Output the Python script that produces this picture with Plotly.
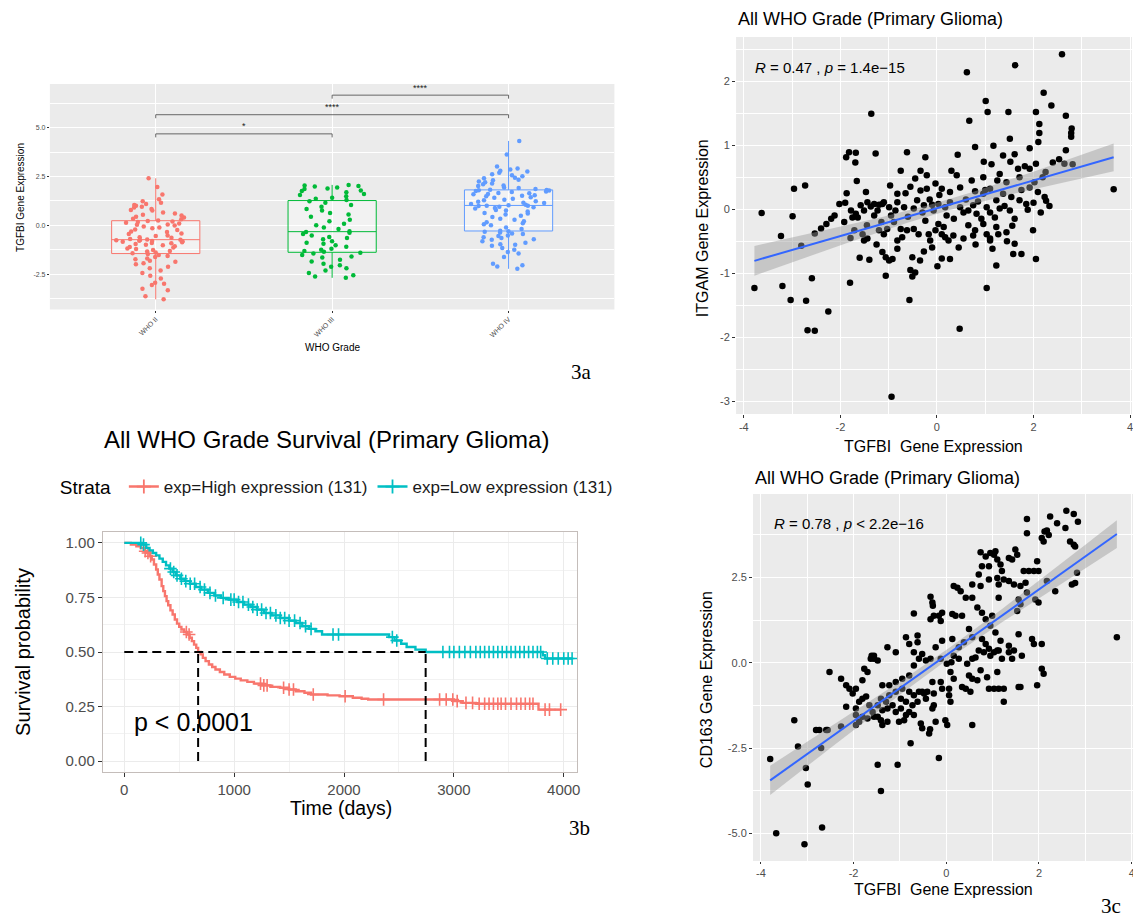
import numpy as np
import plotly.graph_objects as go

W, H = 1141, 920          # reference canvas
PAGE_MARGIN = 8           # default body margin of the html page
FW, FH = W - PAGE_MARGIN, H - PAGE_MARGIN
SANS = "Liberation Sans, Arial, Helvetica, sans-serif"
SERIF = "Liberation Serif, Times New Roman, serif"

# ---------------- Panel 3a : TGFBI expression by WHO grade ----------------
grade_names = ["WHO II", "WHO III", "WHO IV"]
grade_pos = [1, 2, 3]
grade_colors = ["#F8766D", "#00BA38", "#619CFF"]
tgfbi_who2 = [-3.78, -3.62, -3.31, -3.24, -3.05, -2.98, -2.93, -2.71, -2.58, -2.44, -2.31, -2.19, -2.12,
              -1.98, -1.94, -1.86, -1.81, -1.73, -1.69, -1.61, -1.56, -1.51, -1.46,
              -1.42, -1.39, -1.33, -1.31, -1.26, -1.21, -1.18, -1.13, -1.11, -1.06, -1.01, -0.99, -0.95,
              -0.91, -0.90, -0.86, -0.84, -0.81, -0.80, -0.78, -0.76, -0.75, -0.74,
              -0.72, -0.69, -0.63, -0.61, -0.54, -0.51, -0.44, -0.41, -0.34, -0.31, -0.24, -0.21, -0.14,
              -0.11, -0.06, -0.01, 0.03, 0.05, 0.10, 0.13, 0.18, 0.20, 0.23,
              0.25, 0.31, 0.34, 0.41, 0.44, 0.51, 0.54, 0.61, 0.66, 0.76, 0.79, 0.84, 0.91, 0.96, 1.01,
              1.04, 1.10, 1.16, 1.24, 1.34, 1.58, 1.96, 2.41]
tgfbi_who3 = [-2.68, -2.61, -2.55, -2.44, -2.31, -2.19, -2.11, -2.04, -1.96, -1.84, -1.76, -1.64, -1.59,
              -1.51, -1.44, -1.40,
              -1.35, -1.31, -1.24, -1.19, -1.09, -1.01, -0.94, -0.89, -0.81, -0.71, -0.64, -0.59, -0.51,
              -0.44, -0.38, -0.34,
              -0.30, -0.19, -0.11, 0.01, 0.09, 0.21, 0.29, 0.44, 0.56, 0.64, 0.76, 0.84, 0.96, 1.04, 1.16, 1.24,
              1.30, 1.36, 1.41, 1.49, 1.56, 1.61, 1.69, 1.76, 1.79, 1.86, 1.89, 1.94, 1.99, 2.01, 2.04, 2.07]
tgfbi_who4 = [-2.22, -2.10, -2.04, -1.96, -1.61, -1.44, -1.36, -1.24, -1.16, -1.04, -0.99, -0.96, -0.89,
              -0.81, -0.74, -0.71, -0.64, -0.61, -0.54, -0.51, -0.44, -0.41, -0.36, -0.33, -0.30,
              -0.27, -0.19, -0.11, 0.01, 0.06, 0.11, 0.16, 0.21, 0.29, 0.34, 0.43, 0.49, 0.56, 0.61, 0.64,
              0.71, 0.76, 0.79, 0.86, 0.89, 0.93, 0.96, 0.99, 1.00, 1.01,
              1.03, 1.06, 1.09, 1.14, 1.16, 1.21, 1.24, 1.29, 1.31, 1.36, 1.41, 1.44, 1.49, 1.51, 1.54,
              1.59, 1.61, 1.64, 1.66, 1.71, 1.73, 1.76, 1.79, 1.80, 1.81,
              1.82, 1.86, 1.91, 1.94, 2.01, 2.04, 2.11, 2.14, 2.21, 2.24, 2.31, 2.34, 2.41, 2.44, 2.51,
              2.56, 2.61, 2.69, 2.76, 2.79, 2.86, 2.91, 3.01, 3.62, 4.32]
sig_left = [1, 1, 2]
sig_right = [2, 3, 3]
sig_height = [4.68, 5.66, 6.66]
sig_label = ["*", "****", "****"]
box_yticks = [-2.5, 0.0, 2.5, 5.0]
box_yticklabels = ["-2.5", "0.0", "2.5", "5.0"]

# ---------------- Panel 3b : Kaplan-Meier survival ----------------
high_time = [0, 60, 110, 150, 180, 200, 230, 250, 270, 290, 305, 320, 340, 355, 370, 385, 400, 420, 440, 460,
             480, 500, 520, 545, 570, 595, 615, 635, 655, 672, 695, 715, 740, 770, 800, 830, 870, 910, 960, 1010,
             1060, 1120, 1180, 1250, 1330, 1420, 1500, 1560, 1640, 1700, 1850, 1960, 2080, 2160, 2220, 3000,
             3080, 3200, 3770]
high_surv = [1.0, 0.992, 0.985, 0.977, 0.962, 0.954, 0.939, 0.924, 0.901, 0.878, 0.855, 0.832, 0.802, 0.779,
             0.756, 0.733, 0.714, 0.691, 0.672, 0.649, 0.630, 0.615, 0.603, 0.592, 0.580, 0.565, 0.550, 0.534,
             0.519, 0.500, 0.489, 0.473, 0.458, 0.443, 0.431, 0.420, 0.408, 0.397, 0.386, 0.378, 0.370, 0.363,
             0.355, 0.347, 0.340, 0.336, 0.328, 0.320, 0.313, 0.305, 0.301, 0.297, 0.290, 0.286, 0.282, 0.275,
             0.267, 0.263, 0.236]
high_end = 3972
high_censor = [190, 215, 240, 565, 590, 1240, 1270, 1300, 1450, 1500, 1540, 1720, 2010, 2360, 2870, 2930,
               2990, 3030, 3110, 3170, 3230, 3280, 3320, 3360, 3400, 3430, 3470, 3520, 3570, 3610, 3650, 3690,
               3720, 3830, 3870, 3972]
low_time = [0, 160, 200, 230, 260, 290, 320, 350, 380, 410, 440, 470, 510, 550, 600, 650, 700, 760, 820, 880,
            950, 1030, 1090, 1150, 1210, 1270, 1340, 1420, 1500, 1560, 1620, 1680, 1740, 1800, 2410, 2460,
            2520, 2570, 2650, 2743, 3810, 3830]
low_surv = [1.0, 0.992, 0.977, 0.966, 0.954, 0.943, 0.928, 0.913, 0.897, 0.882, 0.867, 0.851, 0.836, 0.825,
            0.813, 0.798, 0.786, 0.771, 0.759, 0.748, 0.740, 0.729, 0.717, 0.706, 0.694, 0.679, 0.668, 0.656,
            0.644, 0.633, 0.618, 0.606, 0.595, 0.580, 0.568, 0.553, 0.538, 0.523, 0.511, 0.500, 0.485, 0.470]
low_end = 4076
low_censor = [150, 175, 420, 450, 480, 520, 560, 600, 640, 690, 730, 780, 830, 900, 970, 1000, 1040, 1080,
              1130, 1170, 1210, 1250, 1290, 1330, 1380, 1420, 1460, 1500, 1550, 1600, 1650, 1700, 1900, 1950,
              2440, 2480, 2900, 2960, 3000, 3050, 3100, 3150, 3200, 3240, 3280, 3320, 3360, 3400, 3440, 3480,
              3520, 3560, 3600, 3640, 3680, 3720, 3760, 3790, 3850, 3900, 3950, 4000, 4040, 4076]
strata_names = ["exp=High expression (131)", "exp=Low expression (131)"]
strata_colors = ["#F8766D", "#00BFC4"]
km_xticks = [0, 1000, 2000, 3000, 4000]
km_yticks = [0.0, 0.25, 0.5, 0.75, 1.0]
km_yticklabels = ["0.00", "0.25", "0.50", "0.75", "1.00"]

# ---------------- Panel 3c : correlation scatters ----------------
tgfbi_a = [2.59, 1.62, 0.62, 2.21, 2.37, 1.01, 1.05, 1.48, 2.05, 2.67, -1.36, 0.67, 2.12, 2.79, 2.78, 2.78,
           2.12, 1.51, 1.17, 0.79, 1.92, 2.10, 2.67, -1.88, -1.82, -1.68, -1.69, -1.27, -0.62, -0.24, 0.43,
           0.97, 1.13, 1.37, 1.52, 1.61, 1.82, 1.92, 2.05, 2.40, 2.53, 2.64, 2.81, 2.25, 2.19, 1.68, 1.71,
           1.30, 1.44, 0.96, 0.41, 0.72, -0.21, -0.34, -0.45, -0.03, -1.66, -0.97, -2.73, -2.96, 3.66, -1.87,
           -1.47, -0.82, -0.65, -0.34, -0.21, 0.10, 0.27, 0.48, 0.79, 0.96, 1.10, 1.37, 1.54, 1.71, 1.92,
           2.02, 2.09, 2.23, 2.26, 2.33, 1.85, 1.88, 1.51, 1.61, 1.56, 1.23, 1.30, 1.20, 1.03, 1.10, 0.75,
           0.82, 0.92, 0.48, 0.55, 0.65, 0.27, 0.17, 0.03, -0.10, -0.07, -0.41, -0.27, -0.48, -0.82, -0.68,
           -0.86, -1.13, -0.99, -1.23, -1.44, -1.37, -1.30, -1.20, -1.10, -1.58, -1.51, -1.68, -1.78, -1.75,
           -1.64, -2.02, -2.19, -2.12, -2.29, -1.92, -3.63, -2.99, -3.23, -2.53, -2.81, -1.79, -1.71, -1.54,
           -1.51, -1.44, -1.20, -1.10, -1.03, -0.89, -0.75, -0.62, -0.82, -0.72, -0.48, -0.38, -0.24, -0.17,
           -0.14, -0.03, 0.03, 0.14, 0.10, 0.17, 0.24, 0.34, 0.55, 0.75, 0.79, 0.96, 1.03, 1.10, 1.23, 1.27,
           1.44, 1.61, 1.75, 1.58, 1.99, 2.05, -1.60, -1.40, -1.13, -1.06, -0.99, -0.92, -0.82, -0.51, -0.27,
           0.01, 0.10, 0.27, 1.10, 1.15, 1.23, -1.06, -0.55, -0.51, -0.45, -1.80, -3.78, -3.20, -3.03, -2.71,
           -2.59, 1.03, -0.57, -2.25, -2.68, -2.53, 0.47, -0.94,
           -1.30, -1.15, -0.95, -0.60, -0.30, 0.20, 0.35, 0.60, 0.85, 1.40, -1.45, -0.55, 0.05, 1.25, 1.75,
           -0.10, 0.45, -1.25, 0.65, 1.45, -0.35, 2.15, 2.00, -2.40, -0.75, 0.30, 1.00, -0.15, 0.80, -1.90]
itgam = [2.42, 2.25, 2.14, 1.82, 1.62, 1.69, 1.52, 1.52, 1.52, 1.46, 1.49, 1.38, 1.33, 1.26, 1.19, 1.13,
         1.19, 1.10, 0.99, 0.97, 0.95, 1.05, 0.92, 0.81, 0.89, 0.88, 0.73, 0.87, 0.89, 0.81, 0.85,
         0.74, 0.70, 0.84, 0.74, 0.86, 0.67, 0.63, 0.71, 0.73, 0.78, 0.71, 0.70, 0.58, 0.50, 0.63, 0.50,
         0.55, 0.42, 0.50, 0.53, 0.45, 0.53, 0.60, 0.48, 0.40, 0.44, 0.37, 0.37, 0.32, 0.31, 0.25,
         0.27, 0.24, 0.25, 0.29, 0.32, 0.32, 0.27, 0.34, 0.28, 0.24, 0.32, 0.24, 0.19, 0.14, 0.34,
         0.42, 0.27, 0.19, 0.13, 0.05, 0.08, -0.01, -0.02, -0.15, -0.26, 0.14, 0.01, -0.13, 0.03, -0.05, 0.06,
         -0.07, -0.15, 0.03, -0.05, -0.02, 0.11, 0.03, 0.08, 0.07, -0.02, 0.14, 0.06, 0.01, 0.11, 0.03,
         -0.02, 0.08, 0.03, -0.02, 0.11, 0.04, 0.08, 0.07, 0.11, 0.06, -0.02, -0.07, -0.02, -0.13,
         -0.13, 0.08, -0.15, -0.10, -0.23, -0.20, -0.06, -0.11, -0.42, -0.38, -0.57, -0.45, -0.33, -0.39,
         -0.49, -0.46, -0.33, -0.39, -0.31, -0.20, -0.31, -0.33, -0.49, -0.44, -0.31, -0.39, -0.18, -0.39,
         -0.49, -0.33, -0.23, -0.28, -0.39, -0.44, -0.49, -0.41, -0.46, -0.41, -0.33, -0.23, -0.39, -0.46, -0.28, -0.39,
         -0.36, -0.54, -0.70, -0.70, -0.33, -0.78, -0.76, -0.79, -0.67, -0.75, -0.80, -0.78, -0.62, -0.75, -0.66,
         -0.89, -0.77, -0.78, -0.49, -0.62, -0.88, -1.04, -0.95, -1.05, -0.99, -1.15, -1.23, -1.20, -1.42, -1.43,
         -1.08, -1.23, -1.42, -1.60, -1.89, -1.90, -1.87, -2.93,
         -0.10, -0.20, -0.10, -0.12, -0.05, -0.10, -0.15, 0.15, 0.12, 0.05, -0.25, 0.35, 0.22, 0.45, 0.30,
         -0.60, -0.60, -0.55, -0.25, -0.50, -0.80, -0.05, 0.10, -0.30, 0.60, 0.60, 0.30, 0.15, -0.55, 0.10]
tgfbi_b = [2.59, 2.75, 2.84, 2.24, 1.74, 2.39, 2.57, 2.12, 2.17, 2.21, 2.06, 2.10, 1.74, 2.67, 2.75, 2.78,
           2.78, 2.71, 2.82, 2.35, 2.17, 1.99, 1.96, 1.67, 1.78, 1.89, 1.49, 1.53, 1.35, 1.42, 1.06, 1.03,
           1.10, 0.74, 0.85, 0.95, 0.92, 0.77, 1.17, 1.20, 1.10, 1.13, 1.24, 1.35, 1.46, 1.60, 1.71, 1.74,
           1.56, 1.60, 1.92, 1.99, 1.53, 1.13, 0.70, 0.92, 0.56, 0.74, 0.24, 0.31, 0.16, 0.42, 0.56, 0.67,
           0.77, 0.85, 0.99, 0.95, 0.13, 0.20, 0.34, -0.09, -0.12, 0.49, 0.56, 0.38, 0.27, 0.13, -0.09, -0.23,
           0.77, 0.85, 0.92, 1.06, 1.17, 1.10, 1.35, 1.46, 1.63, 1.56, 1.85, 1.89, 2.06, 2.06, 2.10, 1.96,
           1.60, -0.34, -0.30, -0.29, -0.34, -0.27, -0.16, -0.70, -0.62, -0.87, -0.62, -0.80, -0.70, -1.09,
           -1.27, -1.61, -1.56, -1.48, -0.52, -0.44, -0.34, -0.59, -0.70, -0.12, 0.01, 0.11, 0.16, 0.27, 0.56,
           0.45, 0.63, 0.70, 0.81, 0.95, 1.03, 1.13, 1.20, 1.35, 1.42, 0.74, 0.88, 1.10, 0.56, 0.67, 0.49,
           0.34, 0.42, 0.52, 0.09, 0.16, 0.06, -0.12, -0.09, -0.30, -0.41, -0.27, -0.52, -0.44, 0.06, 0.09,
           -0.27, -0.30, 0.92, 1.03, 1.13, 1.24, 1.24, 1.56, 0.56, -0.02, 0.02, -0.23, -0.37, -0.77, -0.55,
           -0.52, -0.16, -1.38, -1.23, -1.09, -0.95, -0.80, -0.95, -0.80, -0.70, -0.59, -0.48, -0.98, -0.87,
           -0.73, -0.62, -1.09, -1.23, -1.30, -1.16, -1.41, -1.48, -1.38, -1.27, -1.09, -0.98, -0.87, -1.02,
           -0.91, -0.80, -0.70, -1.66, -1.59, -1.56, -1.48, -1.41, -1.38, -1.27, -1.70, -1.81, -1.95, -1.88,
           -1.81, -1.73, -2.02, -1.95, -1.81, -2.16, -2.09, -2.27, -1.77, -1.70, -1.63, -1.56, -2.16, -2.52,
           -1.95, -1.88, -1.95, -2.27, -2.59, -2.74, -2.81, -2.56, -2.70, -3.28, -3.20, -3.80, -3.03, -2.99,
           -1.48, -1.05, -1.41, -0.35, 3.68, -3.67, -3.06, -2.68]
cd163 = [4.46, 4.36, 4.14, 4.29, 4.22, 4.09, 3.95, 3.85, 3.88, 3.75, 3.66, 3.56, 3.80, 3.56, 3.46, 3.41,
         2.34, 2.30, 2.64, 2.10, 2.40, 2.69, 2.98, 2.69, 2.69, 2.69, 3.32, 3.17, 3.07, 3.03, 3.27, 3.17,
         3.03, 3.24, 3.12, 3.22, 2.83, 2.83, 2.88, 2.69, 2.49, 2.30, 2.44, 2.40, 2.30, 2.25, 2.35, 2.06,
         1.86, 1.72, 1.86, 1.77, 1.52, 1.91, 2.59, 2.44, 2.30, 2.25, 2.20, 2.10, 2.25, 1.91, 1.91, 1.62,
         1.47, 1.28, 1.38, 1.09, 1.43, 1.38, 1.38, 1.47, 1.23, 0.99, 0.75, 0.60, 0.46, 0.70, 0.65, 0.46,
         0.70, 0.55, 0.41, 0.89, 0.65, 0.36, 0.50, 0.36, 0.21, 0.84, 0.70, 0.55, 0.55, -0.17, -0.32, -0.66,
         -0.71, 1.94, 1.77, 1.67, 1.28, 1.38, 1.38, 1.45, 0.80, 0.75, 0.60, 0.55, 0.31, 0.31,
         0.46, 0.21, 0.12, 0.07, 0.26, 0.07, 0.12, 0.12, -0.08, 0.12, -0.03, 0.02, 0.21, 0.12, 0.12,
         -0.03, 0.16, 0.36, 0.31, 0.21, 0.31, 0.36, 0.12, 0.31, 0.12, -0.22, -0.42, -0.27, -0.47, -0.51, -0.37,
         -0.71, -0.76, -0.85, -0.27, -0.47, -0.76, -0.56, -0.76, -0.56, -0.85, -0.90, -0.85, -1.05, -0.95, -1.14,
         -1.24, -1.34, -0.76, -0.76, -0.76, -0.76, -1.14, -0.71, -1.82, -1.68, -1.82, -1.73, -2.07, -2.36, -1.78,
         -1.92, -2.79, -0.66, -0.66, -0.56, -0.47, -0.37, -0.76, -0.85, -0.95, -0.85, -0.90, -1.05, -1.14,
         -1.24, -1.14, -0.85, -0.95, -1.14, -1.24, -1.05, -1.24, -1.39, -1.34, -1.44, -1.34, -1.53, -1.73,
         -1.68, -1.44, -1.53, -1.24, -1.44, -1.58, -1.58, -1.68, -1.82, -1.73, -1.63, -1.58, -1.34, -1.14,
         -1.05, -0.99, -0.90, -0.76, -0.51, -0.66, -0.76, -0.47, -0.17, -0.27, 0.12, 0.21, -1.29, -0.27,
         -1.53, -1.73, -1.82, -1.87, -1.97, -1.97, -1.97, -1.97, -2.50, -1.68, -2.45, -2.82, -3.08, -3.57,
         -2.99, -2.99, -3.76, -1.95, 0.75, -5.00, -5.32, -4.83]
sc_xticks = [-4, -2, 0, 2, 4]
sc_xticklabels = ["-4", "-2", "0", "2", "4"]
sc1_yticks = [-3, -2, -1, 0, 1, 2]
sc1_yticklabels = ["-3", "-2", "-1", "0", "1", "2"]
sc2_yticks = [-5.0, -2.5, 0.0, 2.5]
sc2_yticklabels = ["-5.0", "-2.5", "0.0", "2.5"]


# ---------------- helpers (reference pixel -> figure paper fraction) ----------------
def px_x(p):
    return (p - PAGE_MARGIN) / FW


def px_y(p):
    return 1 - (p - PAGE_MARGIN) / FH


def lm_band(x, y, n_grid=80):
    x = np.asarray(x, float)
    y = np.asarray(y, float)
    n = len(x)
    b1, b0 = np.polyfit(x, y, 1)
    xs = np.linspace(x.min(), x.max(), n_grid)
    yhat = b0 + b1 * xs
    resid = y - (b0 + b1 * x)
    s = np.sqrt(np.sum(resid ** 2) / (n - 2))
    sxx = np.sum((x - x.mean()) ** 2)
    se = s * np.sqrt(1.0 / n + (xs - x.mean()) ** 2 / sxx)
    t = 1.969
    return xs, yhat, yhat - t * se, yhat + t * se


def step_value(times, surv, t):
    idx = np.searchsorted(np.asarray(times), t, side="right") - 1
    return surv[max(idx, 0)]


fig = go.Figure()

# ---------------- 3a traces ----------------
for vals, pos, col in zip([tgfbi_who2, tgfbi_who3, tgfbi_who4], grade_pos, grade_colors):
    fig.add_trace(go.Box(
        x=[pos] * len(vals), y=vals, xaxis="x", yaxis="y",
        boxpoints="all", jitter=1.0, pointpos=0, width=0.5, whiskerwidth=0,
        line=dict(color=col, width=1), fillcolor="rgba(255,255,255,0.35)",
        marker=dict(color=col, size=4.5, opacity=1), showlegend=False, hoverinfo="skip"))

shapes = []
annotations = []
for l, r, h, lab in zip(sig_left, sig_right, sig_height, sig_label):
    tip = 0.18
    shapes.append(dict(type="path", xref="x", yref="y",
                       path=f"M {l},{h - tip} L {l},{h} L {r},{h} L {r},{h - tip}",
                       line=dict(color="#444444", width=0.8)))
    annotations.append(dict(x=(l + r) / 2, y=h + 0.02, xref="x", yref="y", text=lab, showarrow=False,
                            yanchor="bottom", font=dict(family=SANS, size=9, color="#222222")))

# ---------------- 3b traces ----------------
for times, surv, end, cens, name, col in [
        (high_time, high_surv, high_end, high_censor, strata_names[0], strata_colors[0]),
        (low_time, low_surv, low_end, low_censor, strata_names[1], strata_colors[1])]:
    xs = list(times) + [end]
    ys = list(surv) + [surv[-1]]
    fig.add_trace(go.Scatter(x=xs, y=ys, xaxis="x2", yaxis="y2", mode="lines", line_shape="hv",
                             line=dict(color=col, width=2.4), showlegend=False, hoverinfo="skip"))
    cy = [step_value(times, surv, c) for c in cens]
    fig.add_trace(go.Scatter(x=cens, y=cy, xaxis="x2", yaxis="y2", mode="markers",
                             marker=dict(symbol="cross-thin", size=9, line=dict(color=col, width=1.6)),
                             showlegend=False, hoverinfo="skip"))
    fig.add_trace(go.Scatter(x=[None], y=[None], xaxis="x2", yaxis="y2", mode="lines+markers", name=name,
                             line=dict(color=col, width=2.4),
                             marker=dict(symbol="cross-thin", size=10, line=dict(color=col, width=1.8)),
                             showlegend=True))


def median_time(times, surv):
    for t, s in zip(times, surv):
        if s <= 0.5:
            return t
    return None


med_high = median_time(high_time, high_surv)
med_low = median_time(low_time, low_surv)
dash = dict(color="black", width=2, dash="9px,5px")
fig.add_trace(go.Scatter(x=[0, max(med_high, med_low)], y=[0.5, 0.5], xaxis="x2", yaxis="y2", mode="lines",
                         line=dash, showlegend=False, hoverinfo="skip"))
for m in [med_high, med_low]:
    fig.add_trace(go.Scatter(x=[m, m], y=[0, 0.5], xaxis="x2", yaxis="y2", mode="lines",
                             line=dash, showlegend=False, hoverinfo="skip"))
annotations.append(dict(x=66, y=0.18, xref="x2", yref="y2", text="p < 0.0001", showarrow=False,
                        xanchor="left", yanchor="middle", font=dict(family=SANS, size=25, color="black")))

# ---------------- 3c traces ----------------
for xv, yv, xa, ya in [(tgfbi_a, itgam, "x3", "y3"), (tgfbi_b, cd163, "x4", "y4")]:
    gx, gy, lo, hi = lm_band(xv, yv)
    fig.add_trace(go.Scatter(x=xv, y=yv, xaxis=xa, yaxis=ya, mode="markers",
                             marker=dict(color="black", size=6.5), showlegend=False, hoverinfo="skip"))
    fig.add_trace(go.Scatter(x=np.concatenate([gx, gx[::-1]]), y=np.concatenate([hi, lo[::-1]]),
                             xaxis=xa, yaxis=ya, fill="toself", fillcolor="rgba(153,153,153,0.45)",
                             line=dict(width=0), mode="lines", showlegend=False, hoverinfo="skip"))
    fig.add_trace(go.Scatter(x=gx, y=gy, xaxis=xa, yaxis=ya, mode="lines",
                             line=dict(color="#3366FF", width=2), showlegend=False, hoverinfo="skip"))

# gray ggplot panels
for xa, ya in [("x", "y"), ("x3", "y3"), ("x4", "y4")]:
    shapes.append(dict(type="rect", xref=f"{xa} domain", yref=f"{ya} domain", x0=0, x1=1, y0=0, y1=1,
                       fillcolor="#EBEBEB", line=dict(width=0), layer="below"))

# ---------------- axes ----------------
tickfont_s = dict(family=SANS, size=7, color="#4D4D4D")
tickfont_m = dict(family=SANS, size=15, color="#4D4D4D")
tickfont_c = dict(family=SANS, size=11, color="#4D4D4D")

layout_axes = dict(
    xaxis=dict(domain=[px_x(50), px_x(616)], range=[0.4, 3.6], anchor="y",
               tickvals=grade_pos, ticktext=grade_names, tickangle=-45, tickfont=tickfont_s,
               ticks="outside", ticklen=2, tickcolor="#333333", showgrid=True, gridcolor="white",
               gridwidth=1, zeroline=False, showline=False),
    yaxis=dict(domain=[px_y(309.5), px_y(84)], range=[-4.3, 7.23], anchor="x",
               tickvals=box_yticks, ticktext=box_yticklabels, tickfont=tickfont_s,
               ticks="outside", ticklen=2, tickcolor="#333333", showgrid=True, gridcolor="white",
               gridwidth=1, zeroline=False,
               minor=dict(tick0=-3.75, dtick=2.5, showgrid=True, gridcolor="white", gridwidth=0.5)),
    xaxis2=dict(domain=[px_x(103), px_x(579)], range=[-196, 4125], anchor="y2",
                tickvals=km_xticks, tickfont=tickfont_m, ticks="outside", ticklen=4, tickcolor="#333333",
                showgrid=True, gridcolor="#EBEBEB", gridwidth=1, zeroline=False,
                showline=True, linecolor="#C4BDBA", linewidth=1, mirror=True,
                minor=dict(tick0=500, dtick=1000, showgrid=True, gridcolor="#F2F2F2", gridwidth=0.6)),
    yaxis2=dict(domain=[px_y(772), px_y(532)], range=[-0.05, 1.05], anchor="x2",
                tickvals=km_yticks, ticktext=km_yticklabels, tickfont=tickfont_m, ticks="outside",
                ticklen=4, tickcolor="#333333", showgrid=True, gridcolor="#EBEBEB", gridwidth=1,
                zeroline=False, showline=True, linecolor="#C4BDBA", linewidth=1, mirror=True,
                minor=dict(tick0=0.125, dtick=0.25, showgrid=True, gridcolor="#F2F2F2", gridwidth=0.6)),
    xaxis3=dict(domain=[px_x(738), px_x(1135)], range=[-4.16, 4.04], anchor="y3",
                tickvals=sc_xticks, ticktext=sc_xticklabels, tickfont=tickfont_c, ticks="outside",
                ticklen=3, tickcolor="#333333", showgrid=True, gridcolor="white", gridwidth=1.1,
                zeroline=False, minor=dict(tick0=-3, dtick=2, showgrid=True, gridcolor="white", gridwidth=0.5)),
    yaxis3=dict(domain=[px_y(414), px_y(37)], range=[-3.2, 2.69], anchor="x3",
                tickvals=sc1_yticks, ticktext=sc1_yticklabels, tickfont=tickfont_c, ticks="outside",
                ticklen=3, tickcolor="#333333", showgrid=True, gridcolor="white", gridwidth=1.1,
                zeroline=False, minor=dict(tick0=-2.5, dtick=1, showgrid=True, gridcolor="white", gridwidth=0.5)),
    xaxis4=dict(domain=[px_x(755), px_x(1137)], range=[-4.17, 4.05], anchor="y4",
                tickvals=sc_xticks, ticktext=sc_xticklabels, tickfont=tickfont_c, ticks="outside",
                ticklen=2, tickcolor="#333333", showgrid=True, gridcolor="white", gridwidth=1.1,
                zeroline=False, minor=dict(tick0=-3, dtick=2, showgrid=True, gridcolor="white", gridwidth=0.5)),
    yaxis4=dict(domain=[px_y(861), px_y(494)], range=[-5.81, 4.95], anchor="x4",
                tickvals=sc2_yticks, ticktext=sc2_yticklabels, tickfont=tickfont_c, ticks="outside",
                ticklen=3, tickcolor="#333333", showgrid=True, gridcolor="white", gridwidth=1.1,
                zeroline=False, minor=dict(tick0=-3.75, dtick=2.5, showgrid=True, gridcolor="white", gridwidth=0.5)),
)


def ann(text, x, y, size, color="black", angle=0, xanchor="center", family=SANS):
    return dict(text=text, x=px_x(x), y=px_y(y), xref="paper", yref="paper", showarrow=False,
                xanchor=xanchor, yanchor="middle", textangle=angle,
                font=dict(family=family, size=size, color=color))


annotations += [
    # 3a
    ann("TGFBI Gene Expression", 20, 197, 10, angle=-90),
    ann("WHO Grade", 333, 348, 10),
    ann("3a", 583, 372, 21, family=SERIF),
    # 3b
    ann("All WHO Grade Survival (Primary Glioma)", 327, 440, 24),
    ann("Survival probability", 23, 652, 20, angle=-90),
    ann("Time (days)", 342, 808, 19.5),
    ann("3b", 581, 828, 21, family=SERIF),
    # 3c top
    ann("All WHO Grade (Primary Glioma)", 738, 19, 18, xanchor="left"),
    ann("<i>R</i> = 0.47 , <i>p</i> = 1.4e\u221215", 755, 67, 15, xanchor="left"),
    ann("TGFBI  Gene Expression", 936, 446, 16),
    ann("ITGAM Gene Expression", 705, 228, 16, angle=-90),
    # 3c bottom
    ann("All WHO Grade (Primary Glioma)", 755, 478, 18, xanchor="left"),
    ann("<i>R</i> = 0.78 , <i>p</i> &lt; 2.2e\u221216", 774, 523, 15, xanchor="left"),
    ann("TGFBI  Gene Expression", 946, 889, 16),
    ann("CD163 Gene Expression", 708, 680, 16, angle=-90),
    ann("3c", 1114, 906, 21, family=SERIF),
]

fig.update_layout(
    width=FW, height=FH, margin=dict(l=0, r=0, t=0, b=0),
    paper_bgcolor="white", plot_bgcolor="rgba(0,0,0,0)",
    font=dict(family=SANS, color="black"),
    showlegend=True,
    legend=dict(orientation="h", x=px_x(58), y=px_y(487), xanchor="left", yanchor="middle",
                title=dict(text="Strata ", font=dict(family=SANS, size=19, color="black")),
                font=dict(family=SANS, size=17, color="#1A1A1A"), bgcolor="rgba(0,0,0,0)",
                itemwidth=30),
    shapes=shapes, annotations=annotations, hovermode=False,
    **layout_axes,
)

fig.write_html("out.html")
